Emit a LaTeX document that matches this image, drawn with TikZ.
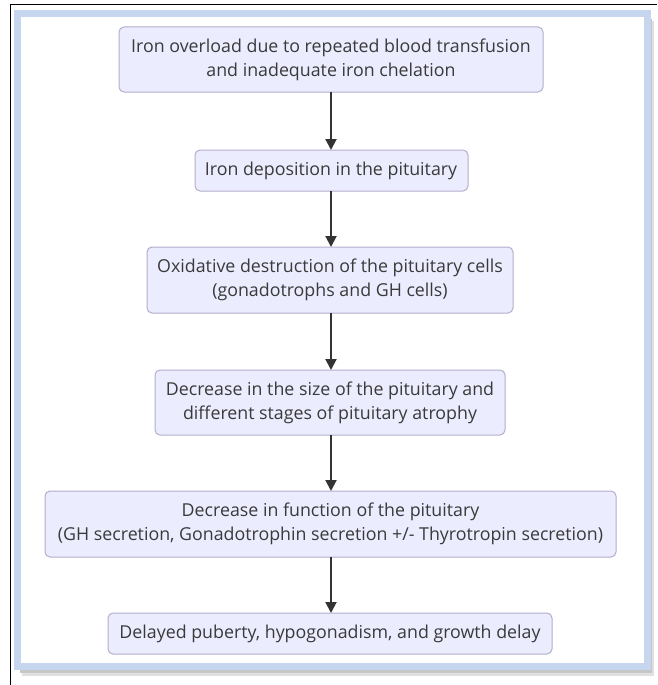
\documentclass[tikz,border=0pt]{standalone}
\usepackage{fontspec}
\setmainfont{Open Sans}
\usetikzlibrary{arrows.meta}
\definecolor{boxfill}{HTML}{ECECFF}
\definecolor{boxline}{HTML}{B4AECB}
\definecolor{txt}{HTML}{3A3A3A}
\definecolor{arrowc}{HTML}{333333}
\definecolor{framec}{HTML}{C6D6EE}
\tikzset{
  stepbox/.style={draw=boxline, line width=1pt, fill=boxfill, rounded corners=5pt,
    text=txt, align=center, font=\fontsize{17.8}{24}\selectfont, inner sep=0pt},
  flow/.style={draw=arrowc, line width=2pt, -{Triangle[width=11pt,length=11pt]}}
}
\begin{document}
\begin{tikzpicture}[x=1pt,y=-1pt]
\useasboundingbox (0,0) rectangle (657,685);
\fill[white] (0,0) rectangle (657,685);
% outer black lines (top and left)
\draw[black, line width=1pt] (10,685) -- (10,5) -- (657,5);
% frame shadow
\fill[black!12] (22,21) rectangle (654,676);
\fill[black!22] (20,19) rectangle (652,673);
% blue frame
\fill[white] (17,14) rectangle (647.5,666);
\draw[framec, line width=7pt] (17,14) rectangle (647.5,666);
% boxes
\path[stepbox] (119,27) rectangle (543,92);
\node[stepbox, draw=none, fill=none] (b1) at (331,59.5) {Iron overload due to repeated blood transfusion\\and inadequate iron chelation};
\path[stepbox] (195,150) rectangle (468,191);
\node[stepbox, draw=none, fill=none] (b2) at (331,170.5) {Iron deposition in the pituitary};
\path[stepbox] (147,247) rectangle (513,313);
\node[stepbox, draw=none, fill=none] (b3) at (330,280) {Oxidative destruction of the pituitary cells\\(gonadotrophs and GH cells)};
\path[stepbox] (155,370) rectangle (505,435);
\node[stepbox, draw=none, fill=none] (b4) at (330,402.5) {Decrease in the size of the pituitary and\\different stages of pituitary atrophy};
\path[stepbox] (45,491) rectangle (616,557);
\node[stepbox, draw=none, fill=none] (b5) at (330.5,524) {Decrease in function of the pituitary\\(GH secretion, Gonadotrophin secretion +/- Thyrotropin secretion)};
\path[stepbox] (108,613) rectangle (552,654);
\node[stepbox, draw=none, fill=none] (b6) at (330,633.5) {Delayed puberty, hypogonadism, and growth delay};
% anchor coordinates on box edges
\coordinate (b1s) at (331,92);
\coordinate (b2n) at (331,150);
\coordinate (b2s) at (331,191);
\coordinate (b3n) at (331,247);
\coordinate (b3s) at (331,313);
\coordinate (b4n) at (331,370);
\coordinate (b4s) at (331,435);
\coordinate (b5n) at (331,491);
\coordinate (b5s) at (331,557);
\coordinate (b6n) at (331,613);
\draw[flow] (b1s) -- (b2n);
\draw[flow] (b2s) -- (b3n);
\draw[flow] (b3s) -- (b4n);
\draw[flow] (b4s) -- (b5n);
\draw[flow] (b5s) -- (b6n);
\end{tikzpicture}
\end{document}
